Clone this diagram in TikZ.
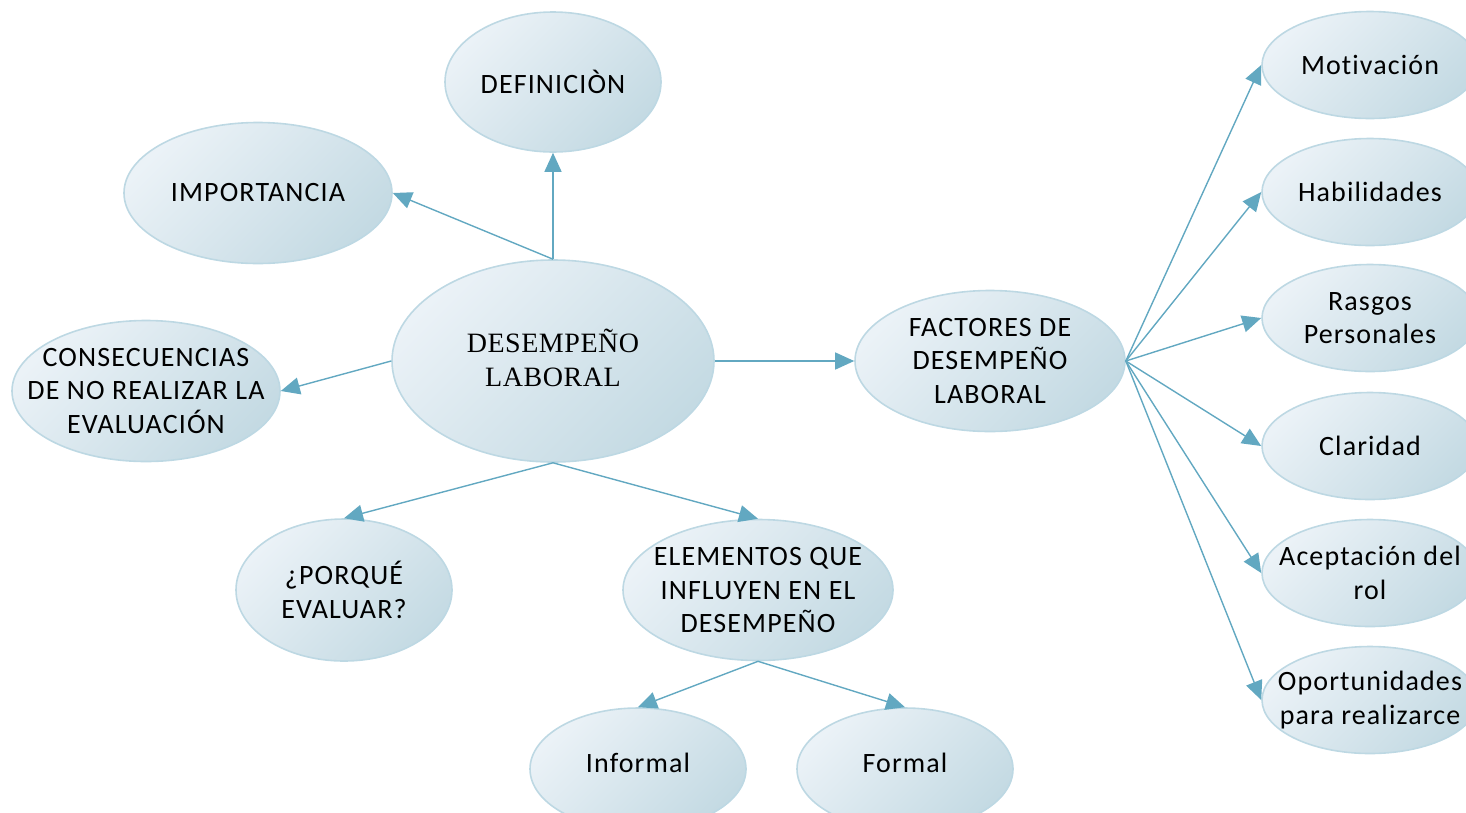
\documentclass[tikz,border=0pt]{standalone}
\usepackage{fontspec}
\setmainfont{Carlito}[LetterSpace=4,Ligatures=NoCommon]
\newfontfamily\serifnode{Liberation Serif}[LetterSpace=2]
\usetikzlibrary{shapes.geometric,arrows.meta}
\definecolor{fillA}{HTML}{EBF2F7}
\definecolor{fillB}{HTML}{C4DAE3}
\definecolor{bord}{HTML}{BDD8E3}
\definecolor{arr}{HTML}{62A8C1}
\begin{document}
\begin{tikzpicture}[x=1pt,y=-1pt,
  bub/.style={ellipse, draw=bord, line width=1.6pt, top color=fillA, bottom color=fillB, shading angle=45, inner sep=0pt},
  small/.style={bub, minimum width=216pt, minimum height=140pt},
  wide/.style={bub, minimum width=268pt, minimum height=141pt},
  side/.style={bub, minimum width=216pt, minimum height=107pt},
  txt/.style={align=center, inner sep=0pt, font=\fontsize{28}{33.5}\selectfont},
  conn/.style={draw=arr, line width=1.4pt, -{Triangle[length=19pt,width=17pt]}}]
\useasboundingbox (0,0) rectangle (1466,812);
\clip (0,0) rectangle (1466,812);

% bubbles
\node[small] (def) at (553,82) {};
\node[wide] (imp) at (258,193) {};
\node[bub, minimum width=322pt, minimum height=202pt] (des) at (553,361) {};
\node[wide] (cons) at (146,391) {};
\node[wide, minimum width=270pt] (fac) at (990,361) {};
\node[small, minimum height=142pt] (por) at (344,590) {};
\node[wide, minimum width=270pt] (ele) at (758,590) {};
\node[small, minimum height=122pt] (inf) at (638,769) {};
\node[small, minimum height=122pt] (for) at (905,769) {};
\node[side] (mot) at (1370,65) {};
\node[side] (hab) at (1370,192) {};
\node[side] (ras) at (1370,318) {};
\node[side] (cla) at (1370,446) {};
\node[side] (ace) at (1370,573) {};
\node[side] (opo) at (1370,700) {};

% texts
\node[txt] (defT) at (def) {DEFINICIÒN};
\node[txt] (impT) at (imp) {IMPORTANCIA};
\node[txt, font=\serifnode\fontsize{28}{34}\selectfont] (desT) at (553,358) {DESEMPEÑO\\LABORAL};
\node[txt] (consT) at (cons) {CONSECUENCIAS\\DE NO REALIZAR LA\\EVALUACIÓN};
\node[txt] (facT) at (fac) {FACTORES DE\\DESEMPEÑO\\LABORAL};
\node[txt] (porT) at (por) {¿PORQUÉ\\EVALUAR?};
\node[txt] (eleT) at (ele) {ELEMENTOS QUE\\INFLUYEN EN EL\\DESEMPEÑO};
\node[txt] (infT) at (638,763) {Informal};
\node[txt] (forT) at (905,763) {Formal};
\node[txt] (motT) at (mot) {Motivación};
\node[txt] (habT) at (hab) {Habilidades};
\node[txt] (rasT) at (ras) {Rasgos\\Personales};
\node[txt] (claT) at (cla) {Claridad};
\node[txt] (aceT) at (ace) {Aceptación del\\rol};
\node[txt] (opoT) at (opo) {Oportunidades\\para realizarce};

% connectors
\draw[conn] (des.north) -- (def.south);
\draw[conn] (des.north) -- (imp.east);
\draw[conn] (des.west) -- (cons.east);
\draw[conn] (des.east) -- (fac.west);
\draw[conn] (des.south) -- (por.north);
\draw[conn] (des.south) -- (ele.north);
\draw[conn] (ele.south) -- (inf.north);
\draw[conn] (ele.south) -- (for.north);
\draw[conn] (fac.east) -- (mot.west);
\draw[conn] (fac.east) -- (hab.west);
\draw[conn] (fac.east) -- (ras.west);
\draw[conn] (fac.east) -- (cla.west);
\draw[conn] (fac.east) -- (ace.west);
\draw[conn] (fac.east) -- (opo.west);
\end{tikzpicture}
\end{document}
